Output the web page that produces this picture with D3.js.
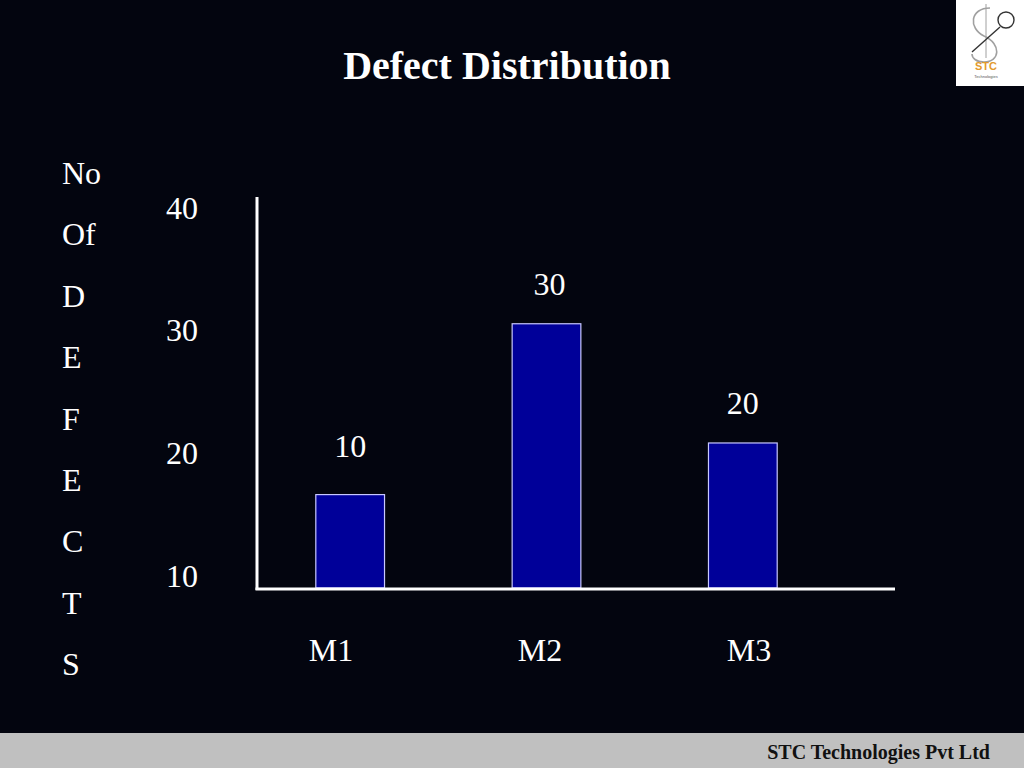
<!DOCTYPE html>
<html>
<head>
<meta charset="utf-8">
<script src="https://cdn.jsdelivr.net/npm/d3@7"></script>
<style>
  html, body { margin: 0; padding: 0; background: #03050f; }
  svg { display: block; }
  text { font-family: "Liberation Serif", "Times New Roman", serif; }
</style>
</head>
<body>
<svg id="chart" width="1024" height="768"></svg>
<script>
// ---- data ----
const categories = ["M1", "M2", "M3"];
const barValues = [16.6, 30.5, 20.8];        // bar heights read against the axis
const dataLabels = ["10", "30", "20"];        // value labels printed above bars
const yTickValues = [10, 20, 30, 40];
const yTitleLetters = ["No", "Of", "D", "E", "F", "E", "C", "T", "S"];
const titleText = "Defect Distribution";
const footerText = "STC Technologies Pvt Ltd";

const svg = d3.select("#chart");
const W = 1024, H = 768;
const FS = 32;

svg.append("rect").attr("width", W).attr("height", H).attr("fill", "#03050f");

// scales
const y = d3.scaleLinear().domain([9, 40]).range([588, 207]);
const x = d3.scaleBand().domain(categories).range([252, 841])
  .paddingInner(0.65).paddingOuter(0.325);
const xLabel = d3.scalePoint().domain(categories).range([331, 749]);

// title
svg.append("text")
  .attr("x", 507).attr("y", 65)
  .attr("text-anchor", "middle").attr("dominant-baseline", "central")
  .attr("font-size", 40).attr("font-weight", "bold").attr("fill", "#ffffff")
  .text(titleText);

// y title letters
svg.append("g").selectAll("text").data(yTitleLetters).join("text")
  .attr("x", 62).attr("y", (d, i) => 173 + i * 61.4)
  .attr("dominant-baseline", "central")
  .attr("font-size", FS).attr("fill", "#ffffff")
  .text(d => d);

// y axis tick labels
const yAxis = d3.axisLeft(y).tickValues(yTickValues).tickSize(0).tickPadding(0)
  .tickFormat(d3.format("d"));
const gy = svg.append("g").attr("transform", "translate(182,0)").call(yAxis);
gy.select(".domain").remove();
gy.selectAll("text")
  .attr("text-anchor", "middle").attr("x", 0).attr("dy", null)
  .attr("dominant-baseline", "central")
  .attr("font-size", FS).attr("fill", "#ffffff")
  .style("font-family", "'Liberation Serif', 'Times New Roman', serif");

// bars
svg.append("g").selectAll("rect").data(barValues).join("rect")
  .attr("x", (d, i) => x(categories[i]))
  .attr("width", x.bandwidth())
  .attr("y", d => y(d))
  .attr("height", d => y(9) - y(d))
  .attr("fill", "#000099")
  .attr("stroke", "#c8c8ff").attr("stroke-width", 1.2);

// data labels
svg.append("g").selectAll("text").data(barValues).join("text")
  .attr("x", (d, i) => x(categories[i]) + x.bandwidth() / 2 + (i === 1 ? 3 : 0))
  .attr("y", (d, i) => y(d) - (i === 0 ? 49 : 40))
  .attr("text-anchor", "middle").attr("dominant-baseline", "central")
  .attr("font-size", FS).attr("fill", "#ffffff")
  .text((d, i) => dataLabels[i]);

// axis lines
svg.append("line").attr("x1", 257).attr("x2", 257)
  .attr("y1", y(40) - 10).attr("y2", y(9) + 2)
  .attr("stroke", "#ffffff").attr("stroke-width", 3);
svg.append("line").attr("x1", 255.5).attr("x2", 895)
  .attr("y1", y(9) + 1).attr("y2", y(9) + 1)
  .attr("stroke", "#ffffff").attr("stroke-width", 3);

// category labels
svg.append("g").selectAll("text").data(categories).join("text")
  .attr("x", d => xLabel(d)).attr("y", 650)
  .attr("text-anchor", "middle").attr("dominant-baseline", "central")
  .attr("font-size", FS).attr("fill", "#ffffff")
  .text(d => d);

// footer
svg.append("rect").attr("x", 0).attr("y", 733).attr("width", W).attr("height", 35)
  .attr("fill", "#c0c0c0");
svg.append("text")
  .attr("x", 990).attr("y", 752)
  .attr("text-anchor", "end").attr("dominant-baseline", "central")
  .attr("font-size", 20).attr("font-weight", "bold").attr("fill", "#111111")
  .text(footerText);

// logo
const logo = svg.append("g");
logo.append("rect").attr("x", 956).attr("y", 0).attr("width", 68).attr("height", 86)
  .attr("fill", "#ffffff");
logo.append("path")
  .attr("d", "M990,8 C970,8 968,28 984,36 C1002,44 1000,62 984,62 C976,62 972,58 972,54")
  .attr("fill", "none").attr("stroke", "#a0a0a0").attr("stroke-width", 1.6);
logo.append("line").attr("x1", 986).attr("x2", 986).attr("y1", 4).attr("y2", 58)
  .attr("stroke", "#a0a0a0").attr("stroke-width", 1);
logo.append("line").attr("x1", 972).attr("x2", 1000).attr("y1", 52).attr("y2", 27)
  .attr("stroke", "#333333").attr("stroke-width", 1.4);
logo.append("circle").attr("cx", 1006).attr("cy", 20).attr("r", 8)
  .attr("fill", "none").attr("stroke", "#333333").attr("stroke-width", 1.4);
logo.append("text").attr("x", 986).attr("y", 70)
  .attr("text-anchor", "middle").attr("font-size", 11).attr("font-weight", "bold")
  .attr("fill", "#e39a2d").style("font-family", "'Liberation Sans', Arial, sans-serif")
  .text("STC");
logo.append("text").attr("x", 986).attr("y", 78)
  .attr("text-anchor", "middle").attr("font-size", 4)
  .attr("fill", "#555555").style("font-family", "'Liberation Sans', Arial, sans-serif")
  .text("Technologies");
</script>
</body>
</html>
